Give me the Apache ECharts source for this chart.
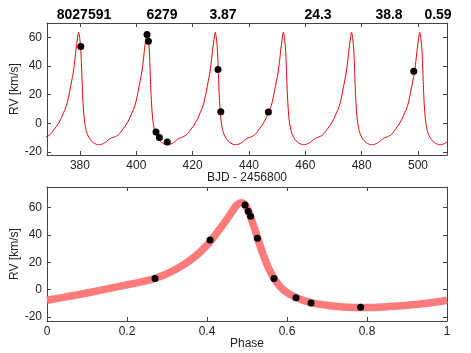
<!DOCTYPE html>
<html>
<head>
<meta charset="utf-8">
<script src="https://cdn.jsdelivr.net/npm/echarts@6/dist/echarts.min.js"></script>
<style>
  html, body { margin: 0; padding: 0; background: #fff; }
  #chart { width: 471px; height: 353px; }
</style>
</head>
<body>
<div id="chart"></div>
<script>
  // header numbers above the top panel
  const headerTexts = ['8027591', '6279', '3.87', '24.3', '38.8', '0.59'];

  // top panel: model peaks (BJD - 2456800) and one cycle of the model read around a peak
  const peakBjd = [379.5, 403.8, 428.0, 452.2, 476.4, 500.6];
  const cycleOffset = [-12.0, -11.1, -10.0, -8.9, -7.0, -5.3, -4.3, -3.6, -3.0, -2.4, -1.8, -1.2, -0.9, -0.5, -0.2, 0,
    0.3, 0.55, 0.8, 1.05, 1.3, 1.55, 1.8, 2.1, 2.5, 3.0, 3.9, 4.8, 6.0, 7.1, 8.5, 9.7, 10.6, 11.6];
  const cycleRv = [-9.8, -9.0, -7.6, -4.8, 0.5, 7.5, 12.5, 18, 24, 30, 36.5, 46, 51.5, 57.5, 61.5, 63.5,
    61, 57, 51, 40, 27, 16, 8.5, 2, -3, -6.8, -10.4, -12.6, -14.2, -14.8, -14.3, -12.9, -11.4, -10.2];

  // observations
  const obsBjd = [446.9, 498.5, 403.8, 404.3, 380.3, 429.0, 430.0, 407.0, 408.2, 411.0];
  const obsPhase = [0.27, 0.4075, 0.495, 0.503, 0.509, 0.526, 0.5675, 0.6225, 0.66, 0.784];
  const obsRv = [8.0, 36.3, 61.9, 57.2, 53.6, 37.6, 8.1, -6.0, -9.8, -13.0];

  // bottom panel: phase-folded model
  const modelPhase = [0, 0.05, 0.10, 0.15, 0.20, 0.25, 0.28, 0.31, 0.34, 0.37, 0.39, 0.41, 0.43, 0.45, 0.465, 0.475, 0.485,
    0.495, 0.505, 0.515, 0.525, 0.535, 0.545, 0.555, 0.57, 0.59, 0.62, 0.66, 0.70, 0.75, 0.80, 0.85, 0.90, 0.95, 1.0];
  const modelRv = [-7.8, -5.2, -2.5, 0.5, 3.5, 6.5, 9.2, 13.0, 17.8, 24.2, 29.5, 35.8, 43.5, 51.5, 58, 61.8, 63.5,
    62, 56.5, 48, 39, 30, 22, 15, 7, 0, -5.5, -9.5, -11.5, -13, -13.2, -12.5, -11.5, -10, -7.8];

  const bjdTicks = [380, 400, 420, 440, 460, 480, 500];
  const phaseTicks = [0, 0.2, 0.4, 0.6, 0.8, 1];
  const phaseTickLabels = ['0', '0.2', '0.4', '0.6', '0.8', '1'];
  const rvTicks = [-20, 0, 20, 40, 60];

  const topCurve = [];
  peakBjd.forEach((p) => {
    cycleOffset.forEach((o, i) => topCurve.push([p + o, cycleRv[i]]));
  });

  const font = "'Liberation Sans', Arial, Helvetica, sans-serif";
  const axisColor = '#444';
  const headerX = [79, 157, 218, 313, 384, 433];

  function xAxis(grid, min, max, ticks, pos, name, labels) {
    return {
      type: 'value',
      gridIndex: grid,
      position: pos,
      min: min,
      max: max,
      name: name,
      nameLocation: 'middle',
      nameGap: 17,
      nameMoveOverlap: false,
      nameTextStyle: { color: '#222', fontSize: 12, fontFamily: font },
      axisLine: { show: true, onZero: false, lineStyle: { color: axisColor, width: 1 } },
      axisTick: { show: true, inside: true, length: 4, customValues: ticks, lineStyle: { color: axisColor } },
      axisLabel: {
        show: pos === 'bottom',
        customValues: ticks,
        color: '#222',
        fontSize: 12,
        fontFamily: font,
        margin: 5,
        formatter: labels ? (v) => labels[ticks.indexOf(v)] ?? String(v) : undefined,
      },
      splitLine: { show: false },
    };
  }

  function yAxis(grid, min, max, pos) {
    return {
      type: 'value',
      gridIndex: grid,
      position: pos,
      min: min,
      max: max,
      name: pos === 'left' ? 'RV [km/s]' : '',
      nameLocation: 'middle',
      nameGap: 26,
      nameMoveOverlap: false,
      nameTextStyle: { color: '#222', fontSize: 12, fontFamily: font },
      axisLine: { show: true, onZero: false, lineStyle: { color: axisColor, width: 1 } },
      axisTick: { show: true, inside: true, length: 4, customValues: rvTicks, lineStyle: { color: axisColor } },
      axisLabel: {
        show: pos === 'left',
        customValues: rvTicks,
        color: '#222',
        fontSize: 12,
        fontFamily: font,
        margin: 5,
      },
      splitLine: { show: false },
    };
  }

  const chart = echarts.init(document.getElementById('chart'), null, { renderer: 'canvas' });

  const option = {
    backgroundColor: '#fff',
    animation: false,
    title: headerTexts.map((t, i) => ({
      text: t,
      left: headerX[i],
      top: 3,
      textAlign: 'center',
      textStyle: { fontSize: 14, fontWeight: 'bold', color: '#000', fontFamily: font },
    })),
    grid: [
      { left: 47, right: 24, top: 23, height: 132, outerBoundsMode: 'none', containLabel: false },
      { left: 47, right: 24, top: 187, height: 134, outerBoundsMode: 'none', containLabel: false },
    ],
    xAxis: [
      xAxis(0, 368.3, 510.3, bjdTicks, 'bottom', 'BJD - 2456800'),
      xAxis(0, 368.3, 510.3, bjdTicks, 'top', ''),
      xAxis(1, 0, 1, phaseTicks, 'bottom', 'Phase', phaseTickLabels),
      xAxis(1, 0, 1, phaseTicks, 'top', '', phaseTickLabels),
    ],
    yAxis: [
      yAxis(0, -22, 70, 'left'),
      yAxis(0, -22, 70, 'right'),
      yAxis(1, -23, 75, 'left'),
      yAxis(1, -23, 75, 'right'),
    ],
    series: [
      {
        type: 'line',
        xAxisIndex: 0,
        yAxisIndex: 0,
        data: topCurve,
        showSymbol: false,
        smooth: 0.5,
        lineStyle: { color: '#e60000', width: 1 },
        z: 2,
      },
      {
        type: 'scatter',
        xAxisIndex: 0,
        yAxisIndex: 0,
        data: obsBjd.map((t, i) => [t, obsRv[i]]),
        symbolSize: 7,
        itemStyle: { color: '#000', opacity: 1 },
        z: 3,
      },
      {
        type: 'line',
        xAxisIndex: 2,
        yAxisIndex: 2,
        data: modelPhase.map((p, i) => [p, modelRv[i]]),
        showSymbol: false,
        smooth: 0.4,
        lineStyle: { color: '#ff7a7a', width: 7.5 },
        z: 2,
      },
      {
        type: 'scatter',
        xAxisIndex: 2,
        yAxisIndex: 2,
        data: obsPhase.map((p, i) => [p, obsRv[i]]),
        symbolSize: 7,
        itemStyle: { color: '#000', opacity: 1 },
        z: 3,
      },
    ],
  };

  chart.setOption(option);
</script>
</body>
</html>
